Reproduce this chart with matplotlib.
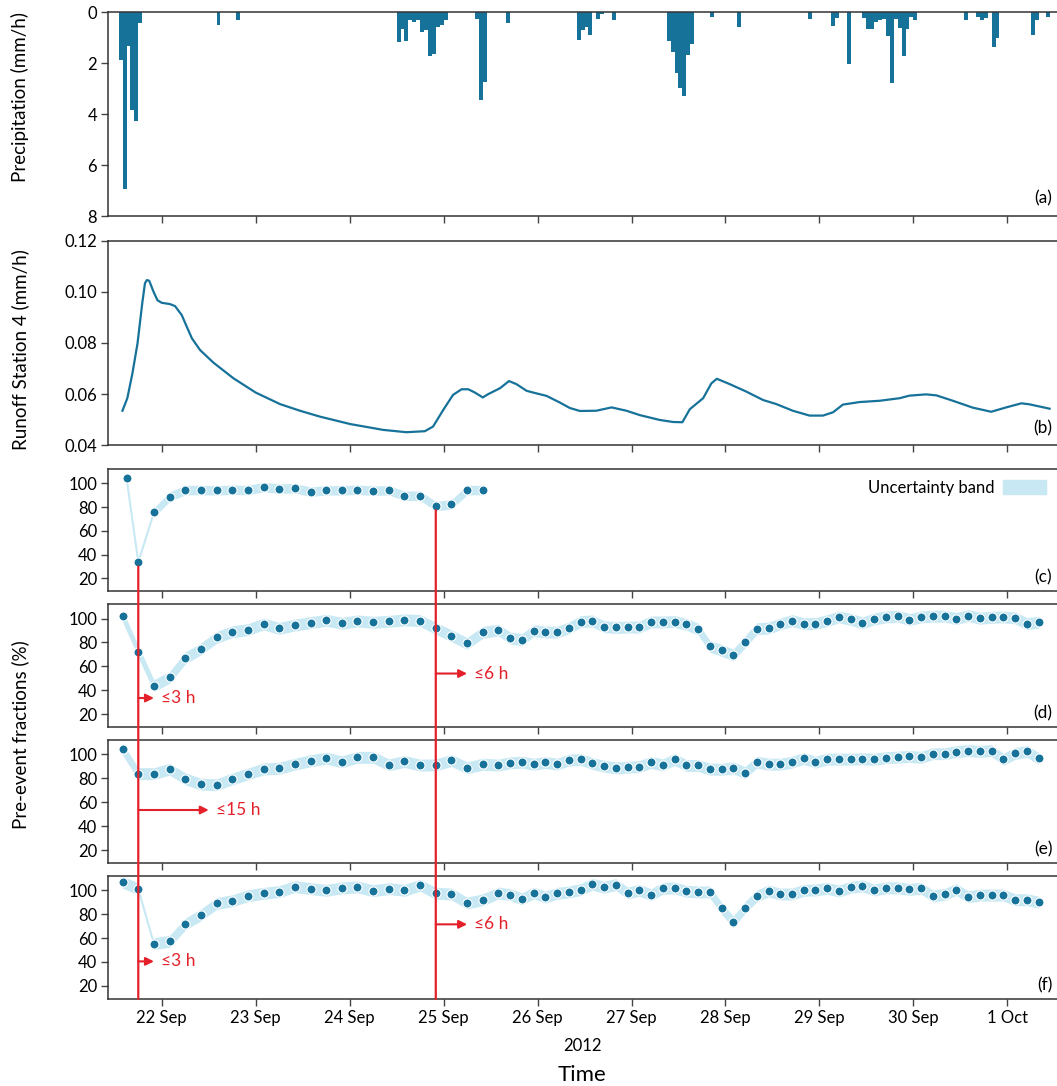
import numpy as np
import pandas as pd
import matplotlib
matplotlib.use("Agg")
import matplotlib.pyplot as plt
import matplotlib.dates as mdates
from matplotlib.patches import ConnectionPatch, Patch

plt.rcParams['font.family'] = ['Lato', 'DejaVu Sans']

BLUE = "#17729a"
BAND = "#c8e9f4"
RED = "#e4202a"
SPINE = "#333333"

# ---- data (hours since 21 Sep 2012 00:00) ----
T0 = pd.Timestamp("2012-09-21 00:00")

rain_hour = [13, 14, 15, 16, 17, 18, 38, 43,
             84, 85, 86, 87, 88, 89, 90, 91, 92, 93, 94, 95, 96,
             104, 105, 106, 112, 130, 131, 132, 133, 135, 136, 139,
             153, 154, 155, 156, 157, 158, 159, 164, 171, 189, 195, 196, 199,
             203, 204, 205, 206, 207, 208, 209, 210, 211, 212, 213, 214, 215, 216,
             229, 232, 233, 234, 236, 237, 246, 247, 250]
rain_mm = [1.88, 6.93, 1.33, 3.85, 4.28, 0.41, 0.50, 0.30,
           1.17, 0.66, 1.12, 0.30, 0.38, 0.30, 0.78, 0.70, 1.71, 1.63, 0.57, 0.49, 0.30,
           0.25, 3.45, 2.74, 0.41, 1.08, 0.69, 0.57, 0.88, 0.25, 0.07, 0.29,
           1.12, 1.55, 2.38, 2.98, 3.29, 1.67, 1.24, 0.17, 0.57, 0.25, 0.53, 0.21, 2.03,
           0.21, 0.65, 0.65, 0.37, 0.29, 0.25, 0.92, 2.78, 0.25, 0.61, 1.71, 0.65, 0.17, 0.29,
           0.29, 0.17, 0.29, 0.21, 1.36, 1.00, 0.88, 0.29, 0.17]

runoff_hour = [13.95, 15.2, 16.5, 17.8, 19.0, 19.7, 20.2, 20.8, 21.9, 22.9,
               24.0, 26.1, 27.4, 29.1, 30.4, 31.7, 33.8, 37.2, 42.3, 48.0,
               54.2, 59.3, 64.4, 72.1, 80.6, 86.5, 91.2, 93.3, 95.9, 98.4,
               100.6, 102.3, 104.0, 106.0, 107.4, 110.4, 112.7, 114.6, 117.2, 118.9,
               122.3, 125.7, 128.2, 130.8, 135.0, 138.9, 142.7, 146.1, 151.2, 154.6,
               157.0, 158.9, 162.3, 164.4, 165.8, 169.1, 173.3, 177.6, 181.0, 185.2,
               189.5, 192.9, 195.5, 198.0, 202.3, 207.4, 212.5, 215.0, 219.3, 221.9,
               226.1, 231.2, 235.9, 239.7, 243.6, 245.7, 250.8]
runoff = [0.0535, 0.0584, 0.0681, 0.0798, 0.0954, 0.1033, 0.1046, 0.1043, 0.1000, 0.0967,
          0.0957, 0.0952, 0.0944, 0.0909, 0.0863, 0.0818, 0.0772, 0.0723, 0.0662, 0.0606,
          0.0561, 0.0535, 0.0512, 0.0483, 0.0460, 0.0451, 0.0455, 0.0473, 0.0538, 0.0597,
          0.0619, 0.0619, 0.0606, 0.0587, 0.0600, 0.0623, 0.0651, 0.0639, 0.0613, 0.0606,
          0.0593, 0.0567, 0.0546, 0.0534, 0.0535, 0.0548, 0.0535, 0.0518, 0.0499, 0.0491,
          0.0490, 0.0541, 0.0584, 0.0642, 0.0660, 0.0639, 0.0610, 0.0577, 0.0561, 0.0535,
          0.0516, 0.0516, 0.0529, 0.0559, 0.0569, 0.0574, 0.0584, 0.0594, 0.0599, 0.0595,
          0.0574, 0.0547, 0.0531, 0.0548, 0.0564, 0.0560, 0.0543]

sample_hour = [14, 18, 22, 26, 30, 34, 38, 42, 46, 50, 54, 58, 62, 66, 70, 74,
               78, 82, 86, 90, 94, 98, 102, 106, 110, 113, 116, 119, 122, 125,
               128, 131, 134, 137, 140, 143, 146, 149, 152, 155, 158, 161, 164,
               167, 170, 173, 176, 179, 182, 185, 188, 191, 194, 197, 200, 203,
               206, 209, 212, 215, 218, 221, 224, 227, 230, 233, 236, 239, 242,
               245, 248]
c_hour = [15] + sample_hour[1:24]

c_val = [104.5, 33.6, 75.4, 88.7, 94.3, 94.3, 94.1, 94.6, 94.3, 96.9, 95.5, 95.8,
         92.9, 94.1, 94.1, 94.6, 93.8, 94.1, 89.5, 89.5, 80.8, 82.2, 94.3, 94.3]
d_val = [102.0, 72.4, 43.9, 50.7, 67.0, 74.6, 84.2, 89.0, 90.7, 95.5, 91.8, 94.6,
         96.6, 98.6, 96.1, 98.0, 96.9, 97.7, 98.9, 98.3, 91.8, 85.6, 79.2, 88.5,
         90.4, 83.7, 82.3, 89.9, 88.7, 88.7, 92.1, 97.5, 98.0, 93.2, 92.6, 92.9,
         92.9, 97.2, 97.2, 97.5, 95.2, 91.2, 76.8, 73.4, 69.5, 80.5, 91.5, 92.1,
         95.5, 98.3, 95.8, 95.8, 98.3, 101.4, 99.4, 96.3, 99.7, 101.4, 102.0, 99.2,
         101.4, 102.0, 102.0, 100.0, 102.5, 100.3, 101.1, 101.4, 100.6, 95.8, 96.9]
e_val = [104.2, 83.9, 83.9, 87.6, 79.6, 75.1, 74.6, 79.4, 83.6, 87.8, 88.4, 91.8,
         94.6, 96.9, 93.8, 97.5, 97.5, 91.2, 94.1, 91.0, 91.2, 94.9, 88.7, 91.8,
         91.0, 92.9, 93.5, 91.8, 93.2, 91.8, 95.2, 95.8, 92.4, 90.1, 88.7, 89.3,
         89.8, 93.2, 91.2, 95.8, 90.7, 90.7, 87.6, 87.6, 88.7, 84.7, 93.5, 91.8,
         91.8, 93.5, 96.6, 93.5, 96.0, 96.0, 96.0, 96.3, 96.0, 97.2, 97.7, 98.3,
         97.5, 100.6, 100.6, 102.3, 103.1, 102.5, 103.1, 95.8, 100.8, 102.5, 96.6]
f_val = [106.8, 101.1, 55.3, 57.3, 71.7, 79.4, 89.0, 91.2, 95.5, 97.5, 98.9, 103.1,
         101.4, 100.0, 102.0, 102.8, 99.7, 101.4, 100.0, 104.2, 97.5, 96.9, 89.3, 92.1,
         97.7, 96.3, 92.9, 97.7, 94.3, 97.5, 98.6, 100.6, 105.1, 102.5, 104.8, 97.7,
         100.0, 96.3, 101.7, 102.0, 99.2, 98.6, 98.6, 85.0, 73.4, 85.6, 95.2, 99.4,
         96.9, 96.9, 100.0, 100.3, 101.7, 99.4, 102.5, 103.7, 100.3, 102.0, 102.0, 100.8,
         101.7, 95.2, 96.6, 100.6, 94.6, 96.0, 96.0, 96.0, 92.1, 92.1, 90.1]

# half width of uncertainty band and the index runs where it is drawn
band_half = {"c": 4.0, "d": 5.0, "e": 5.0, "f": 5.0}
band_runs = {"c": [(2, 24)], "d": [(0, 71)], "e": [(0, 71)], "f": [(0, 2), (2, 71)]}

event_hour = [18, 94]
# (panel, event index, level, arrow length h, label)
arrows = [("d", 0, 33.5, 4, "≤3 h"), ("d", 1, 54, 8, "≤6 h"),
          ("e", 0, 53.5, 18, "≤15 h"),
          ("f", 0, 40.5, 4, "≤3 h"), ("f", 1, 71.5, 8, "≤6 h")]


def tt(hours):
    return T0 + pd.to_timedelta(np.asarray(hours, dtype=float), unit="h")


fig = plt.figure(figsize=(10.57, 10.86), dpi=100)
L, W = 0.1025, 0.8975
pos = {"a": (0.8011, 0.1876), "b": (0.5900, 0.1884), "c": (0.4555, 0.1126),
       "d": (0.3303, 0.1133), "e": (0.2051, 0.1135), "f": (0.0801, 0.1133)}
ax = {}
for k in "abcdef":
    b, h = pos[k]
    ax[k] = fig.add_axes([L, b, W, h], sharex=ax.get("a"))

xmin = T0 + pd.Timedelta(hours=10.35)
xmax = T0 + pd.Timedelta(hours=252.7)

for k, a in ax.items():
    for s in a.spines.values():
        s.set_color(SPINE)
        s.set_linewidth(1.1)
    a.spines["right"].set_visible(False)
    a.tick_params(direction="out", length=5, width=1, color="#444444",
                  labelsize=12, pad=3)
    a.xaxis.set_major_locator(mdates.DayLocator())
    a.xaxis.set_major_formatter(mdates.DateFormatter("%-d %b"))
    if k != "f":
        a.tick_params(labelbottom=False)
    a.text(0.995, 0.045, f"({k})", transform=a.transAxes, ha="right",
           va="bottom", fontsize=12.5)
ax["a"].set_xlim(xmin, xmax)

# (a) precipitation
a = ax["a"]
a.bar(tt(rain_hour), rain_mm, width=1 / 24, align="edge", color=BLUE, lw=0)
a.set_ylim(8, 0)
a.set_yticks([0, 2, 4, 6, 8])

# (b) runoff
a = ax["b"]
a.plot(tt(runoff_hour), runoff, color=BLUE, lw=1.6)
a.set_ylim(0.04, 0.12)
a.set_yticks([0.04, 0.06, 0.08, 0.10, 0.12])
a.yaxis.set_major_formatter(matplotlib.ticker.FormatStrFormatter("%.2f"))

# (c)-(f) pre-event fractions
series = {"c": (c_hour, c_val), "d": (sample_hour, d_val),
          "e": (sample_hour, e_val), "f": (sample_hour, f_val)}
for k, (hr, val) in series.items():
    a = ax[k]
    t = tt(hr)
    v = np.array(val)
    a.plot(t, v, color=BAND, lw=1.5, zorder=1)
    for i0, i1 in band_runs[k]:
        a.fill_between(t[i0:i1], v[i0:i1] - band_half[k], v[i0:i1] + band_half[k],
                       color=BAND, lw=0, zorder=1)
    a.plot(t, v, ls="none", marker="o", ms=6.5, mfc=BLUE, mec="white", mew=0.8,
           zorder=3)
    a.set_ylim(9, 112)
    a.set_yticks([20, 40, 60, 80, 100])

ax["c"].legend(handles=[Patch(color=BAND, label="Uncertainty band")],
               loc="upper right", frameon=False, markerfirst=False,
               handlelength=2.6, handleheight=0.9, fontsize=12,
               borderaxespad=0.25, handletextpad=0.5)

# red event lines from panel (c) to bottom of (f)
for i, eh in enumerate(event_hour):
    x = tt([eh])[0]
    yc = c_val[c_hour.index(eh)] - 3.5
    con = ConnectionPatch(xyA=(mdates.date2num(x), yc), coordsA=ax["c"].transData,
                          xyB=(mdates.date2num(x), 9), coordsB=ax["f"].transData,
                          color=RED, lw=1.6, zorder=5)
    fig.add_artist(con)

for k, ei, lev, ln, lab in arrows:
    a = ax[k]
    x0 = event_hour[ei]
    a.annotate("", xy=(tt([x0 + ln])[0], lev), xytext=(tt([x0])[0], lev),
               arrowprops=dict(arrowstyle="-|>", color=RED, lw=1.5,
                               mutation_scale=12, shrinkA=0, shrinkB=0))
    a.text(tt([x0 + ln + 1.8])[0], lev, lab, color=RED, fontsize=12.5,
           va="center", ha="left")

fig.text(0.019, 1 - 97 / 1086, "Precipitation (mm/h)", rotation=90,
         ha="center", va="center", fontsize=13.5)
fig.text(0.019, 1 - 350 / 1086, "Runoff Station 4 (mm/h)", rotation=90,
         ha="center", va="center", fontsize=13.5)
fig.text(0.019, 1 - 735 / 1086, "Pre-event fractions (%)", rotation=90,
         ha="center", va="center", fontsize=13.5)
fig.text(0.551, 1 - 1046 / 1086, "2012", ha="center", va="center", fontsize=12)
fig.text(0.551, 1 - 1075 / 1086, "Time", ha="center", va="center", fontsize=16)

fig.savefig("out.png", dpi=100)
